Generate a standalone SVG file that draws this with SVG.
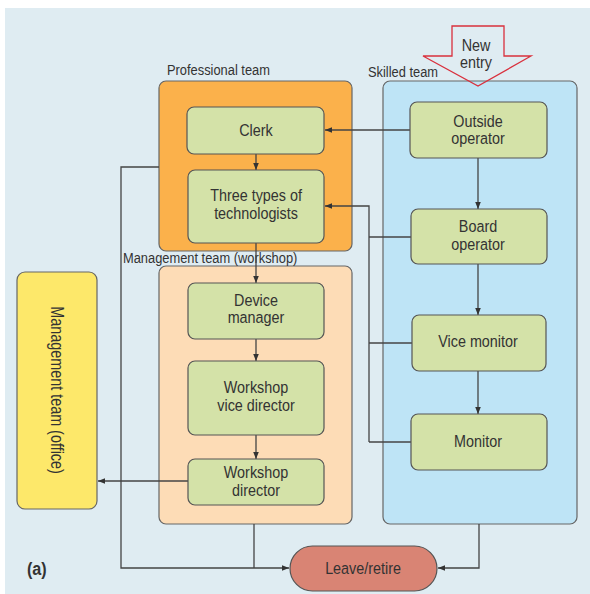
<svg xmlns="http://www.w3.org/2000/svg" width="590" height="594" viewBox="0 0 590 594">
<style>
text{font-family:"Liberation Sans",Arial,sans-serif;fill:#333;transform-box:fill-box;}
.t{font-size:17px;text-anchor:middle;transform-origin:center;transform:scaleX(0.845);}
.lbl{font-size:15.5px;transform-origin:left;transform:scaleX(0.83);}
.node{fill:#d4e2a8;stroke:#555;stroke-width:1.2;}
.c{fill:none;stroke:#444;stroke-width:1.3;}
.grp{stroke:#666;stroke-width:1.2;}
</style>
<defs>
<marker id="ah" viewBox="0 0 10 10" refX="10" refY="5" markerWidth="7" markerHeight="7" markerUnits="userSpaceOnUse" orient="auto">
<path d="M0,1 L10,5 L0,9 Z" fill="#333"/>
</marker>
</defs>
<rect x="5" y="8" width="585" height="586" fill="#dfecf2"/>

<g id="professional-team">
<rect class="grp" x="159" y="81" width="193" height="170" rx="7" fill="#fbb14b"/>
<text class="lbl" x="167" y="75">Professional team</text>
</g>
<g id="skilled-team">
<rect class="grp" x="383" y="81" width="194" height="443" rx="7" fill="#bee4f6"/>
<text class="lbl" x="368" y="77">Skilled team</text>
</g>
<g id="management-workshop">
<rect class="grp" x="159" y="266" width="193" height="258" rx="7" fill="#fddcb6"/>
<text class="lbl" x="123" y="263">Management team (workshop)</text>
</g>

<g id="connectors">
<path class="c" d="M410,130 H325" marker-end="url(#ah)"/>
<path class="c" d="M256,154 V170" marker-end="url(#ah)"/>
<path class="c" d="M478,158 V209" marker-end="url(#ah)"/>
<path class="c" d="M478,264 V315" marker-end="url(#ah)"/>
<path class="c" d="M478,371 V414" marker-end="url(#ah)"/>
<path class="c" d="M256,243 V283" marker-end="url(#ah)"/>
<path class="c" d="M256,339 V361" marker-end="url(#ah)"/>
<path class="c" d="M256,435 V459" marker-end="url(#ah)"/>
<path class="c" d="M188,481 H98" marker-end="url(#ah)"/>
<path class="c" d="M369,442 V206 H325" marker-end="url(#ah)"/>
<path class="c" d="M411,237 H369"/>
<path class="c" d="M412,343 H369"/>
<path class="c" d="M411,442 H369"/>
<path class="c" d="M159,167 H121 V568 H289" marker-end="url(#ah)"/>
<path class="c" d="M254,524 V568"/>
<path class="c" d="M479,524 V568 H438" marker-end="url(#ah)"/>
</g>

<g id="new-entry">
<path d="M452,26 H504 V56 H531 L478,86 L423,56 H452 Z" fill="none" stroke="#d9303d" stroke-width="1.3"/>
<text class="t" x="476" y="51.5">New</text>
<text class="t" x="476" y="68.5">entry</text>
</g>

<g id="clerk">
<rect class="node" x="187" y="107" width="137" height="47" rx="7"/>
<text class="t" x="256" y="136">Clerk</text>
</g>
<g id="technologists">
<rect class="node" x="188" y="170" width="136" height="73" rx="7"/>
<text class="t" x="256" y="201">Three types of</text>
<text class="t" x="256" y="219">technologists</text>
</g>
<g id="outside-operator">
<rect class="node" x="410" y="102" width="137" height="56" rx="7"/>
<text class="t" x="478" y="127">Outside</text>
<text class="t" x="478" y="144">operator</text>
</g>
<g id="board-operator">
<rect class="node" x="411" y="209" width="136" height="55" rx="7"/>
<text class="t" x="478" y="232">Board</text>
<text class="t" x="478" y="250">operator</text>
</g>
<g id="vice-monitor">
<rect class="node" x="412" y="315" width="134" height="56" rx="7"/>
<text class="t" x="478" y="347">Vice monitor</text>
</g>
<g id="monitor">
<rect class="node" x="411" y="414" width="136" height="56" rx="7"/>
<text class="t" x="478" y="447">Monitor</text>
</g>
<g id="device-manager">
<rect class="node" x="188" y="283" width="136" height="56" rx="7"/>
<text class="t" x="256" y="306">Device</text>
<text class="t" x="256" y="323">manager</text>
</g>
<g id="workshop-vice-director">
<rect class="node" x="188" y="361" width="136" height="74" rx="7"/>
<text class="t" x="256" y="393">Workshop</text>
<text class="t" x="256" y="411">vice director</text>
</g>
<g id="workshop-director">
<rect class="node" x="188" y="459" width="136" height="46" rx="7"/>
<text class="t" x="256" y="478">Workshop</text>
<text class="t" x="256" y="496">director</text>
</g>
<g id="management-office">
<rect x="17" y="272" width="80" height="237" rx="8" fill="#fde86a" stroke="#666" stroke-width="1.2"/>
<g transform="translate(51,390) rotate(90)">
<text class="t" x="0" y="0" style="font-size:18px;transform:scaleX(0.8);">Management team (office)</text>
</g>
</g>
<g id="leave-retire">
<rect x="290" y="546" width="147" height="45" rx="22.5" fill="#d98474" stroke="#555" stroke-width="1.2"/>
<text class="t" x="363" y="574">Leave/retire</text>
</g>
<text x="27" y="575" style="font-size:19px;font-weight:bold;transform-origin:left;transform:scaleX(0.85);">(a)</text>
</svg>
